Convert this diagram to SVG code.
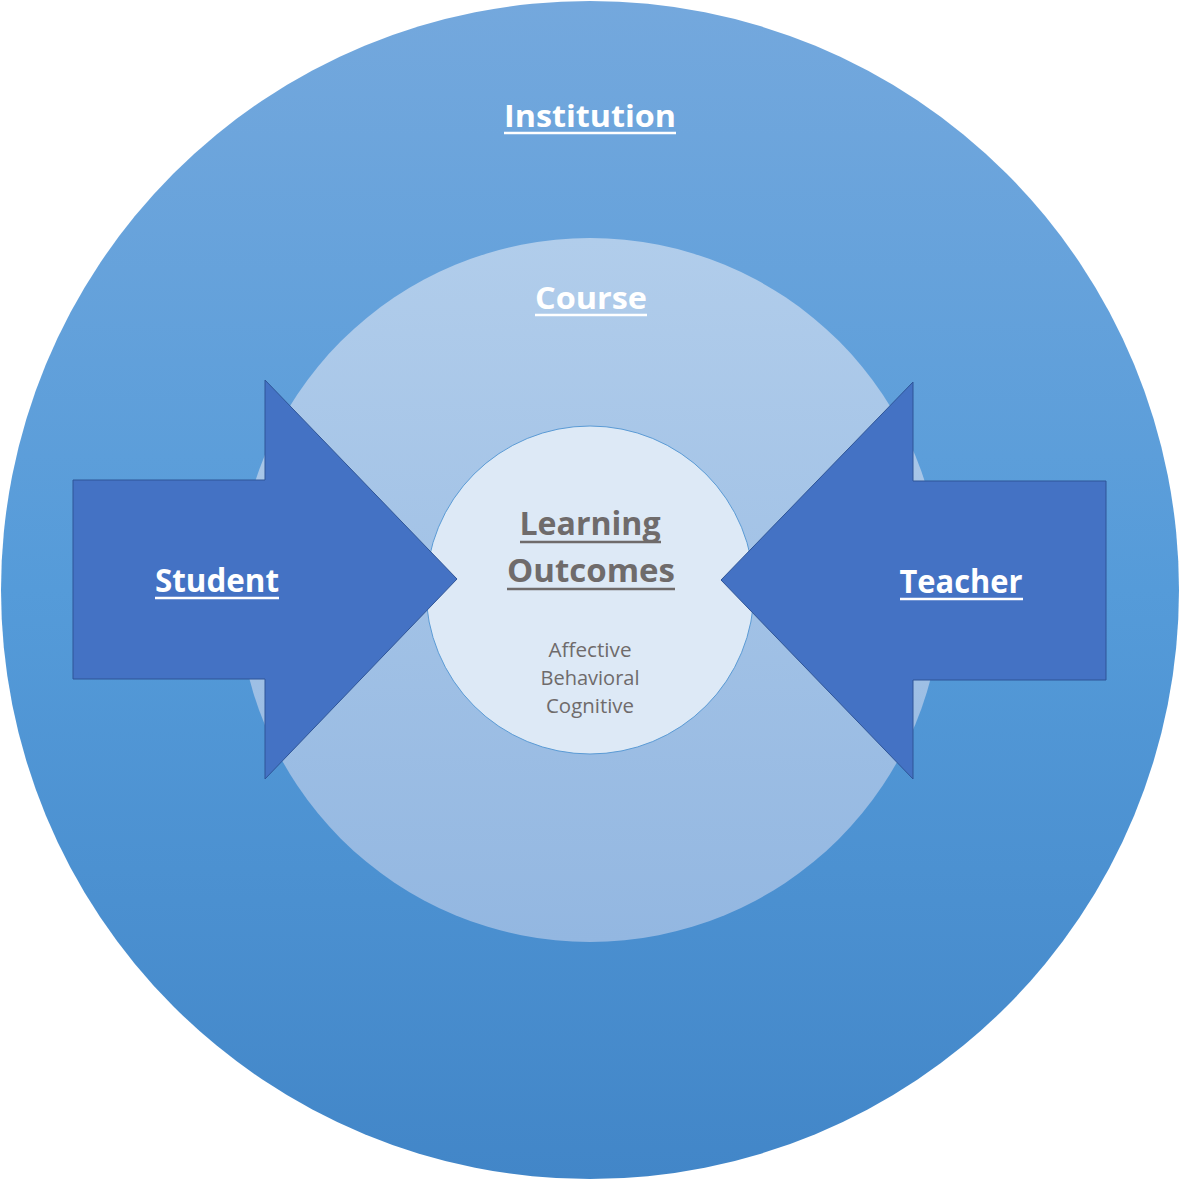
<svg xmlns="http://www.w3.org/2000/svg" width="1180" height="1180" viewBox="0 0 1180 1180">
<defs>
<linearGradient id="gOuter" x1="0" y1="0" x2="0" y2="1">
<stop offset="0" stop-color="#74a8dd"/>
<stop offset="0.5" stop-color="#559bd9"/>
<stop offset="1" stop-color="#4286c8"/>
</linearGradient>
<linearGradient id="gCourse" x1="0" y1="0" x2="0" y2="1">
<stop offset="0" stop-color="#b1cdeb"/>
<stop offset="1" stop-color="#93b7e1"/>
</linearGradient>
<style>
.lbl{font-family:"Open Sans","Noto Sans","Liberation Sans",sans-serif;font-weight:bold;fill:#ffffff;text-anchor:middle}
.ul{stroke:#ffffff;stroke-width:2.5}
.gray{font-family:"Open Sans","Noto Sans","Liberation Sans",sans-serif;fill:#6f6b6b;text-anchor:middle}
.ulg{stroke:#6f6b6b;stroke-width:2.5}
.arrow{fill:#4472c4;stroke:#2f5597;stroke-width:1}
</style>
</defs>
<g id="institution">
<circle cx="590" cy="590" r="589" fill="url(#gOuter)"/>
<text class="lbl" x="590" y="127" font-size="31" textLength="172" lengthAdjust="spacingAndGlyphs">Institution</text>
<line class="ul" x1="504" y1="133" x2="676" y2="133"/>
</g>
<g id="course">
<circle cx="590" cy="590" r="352" fill="url(#gCourse)"/>
<text class="lbl" x="591" y="309" font-size="31" textLength="112" lengthAdjust="spacingAndGlyphs">Course</text>
<line class="ul" x1="535" y1="315" x2="647" y2="315"/>
</g>
<g id="learning-outcomes">
<circle cx="590" cy="590" r="164" fill="#dde9f6" stroke="#5b9bd5" stroke-width="1"/>
<text class="gray" x="590" y="535" font-size="33" font-weight="bold" textLength="141" lengthAdjust="spacingAndGlyphs">Learning</text>
<line class="ulg" x1="520" y1="542" x2="661" y2="542"/>
<text class="gray" x="591" y="582" font-size="33" font-weight="bold" textLength="168" lengthAdjust="spacingAndGlyphs">Outcomes</text>
<line class="ulg" x1="507" y1="589" x2="675" y2="589"/>
<text class="gray" x="590" y="657" font-size="20" textLength="83" lengthAdjust="spacingAndGlyphs">Affective</text>
<text class="gray" x="590" y="685" font-size="20" textLength="99" lengthAdjust="spacingAndGlyphs">Behavioral</text>
<text class="gray" x="590" y="713" font-size="20" textLength="88" lengthAdjust="spacingAndGlyphs">Cognitive</text>
</g>
<g id="student">
<polygon class="arrow" points="73,480 265,480 265,380 457,579 265,779 265,679 73,679"/>
<text class="lbl" x="217" y="592" font-size="32" textLength="124" lengthAdjust="spacingAndGlyphs">Student</text>
<line class="ul" x1="155" y1="598" x2="279" y2="598"/>
</g>
<g id="teacher">
<polygon class="arrow" points="1106,481 913,481 913,382 721,580 913,779 913,680 1106,680"/>
<text class="lbl" x="961" y="593" font-size="32" textLength="123" lengthAdjust="spacingAndGlyphs">Teacher</text>
<line class="ul" x1="900" y1="599" x2="1023" y2="599"/>
</g>
<g id="connectors"></g>
</svg>
